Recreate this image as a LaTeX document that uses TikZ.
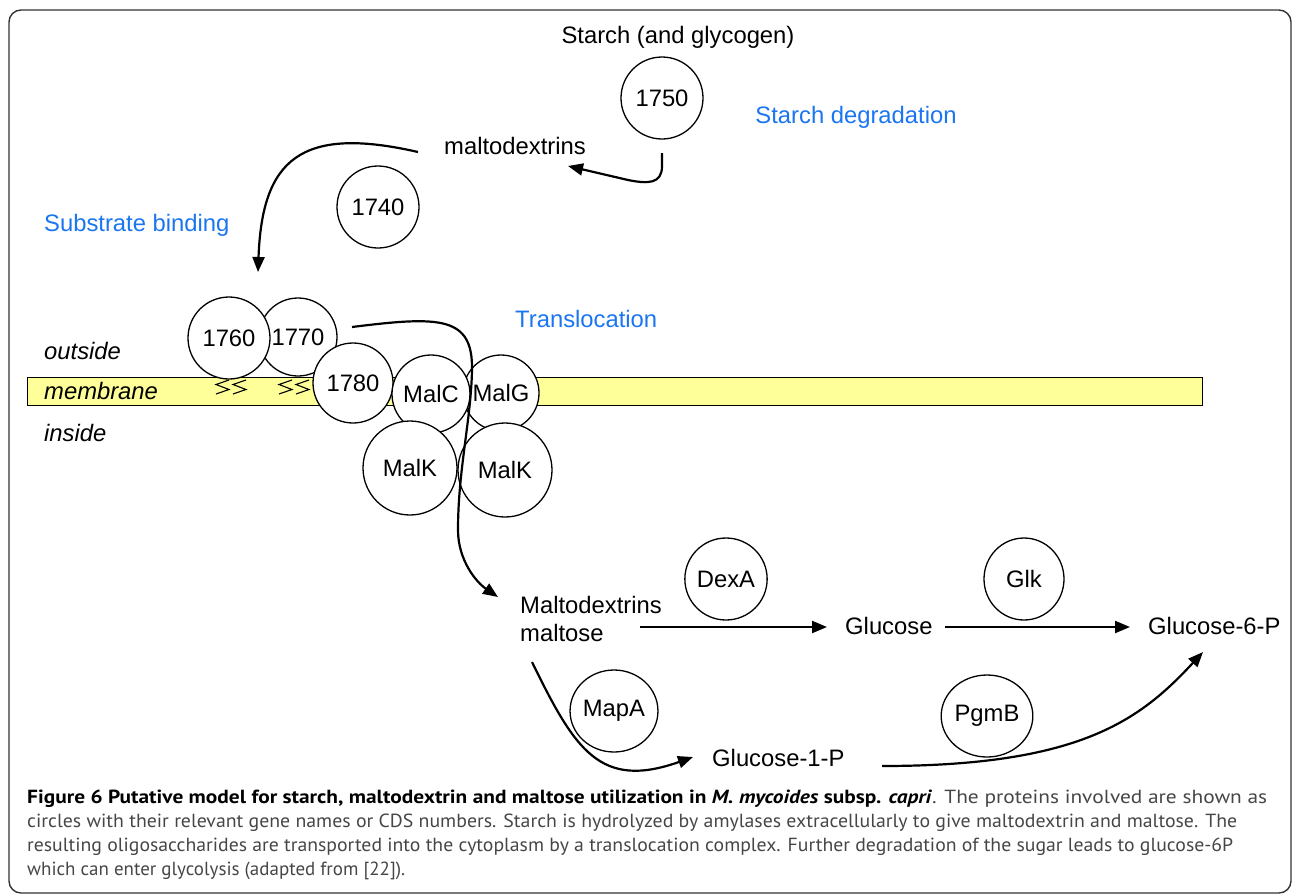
\documentclass[tikz,border=0pt]{standalone}
\usepackage{fontspec}
\usepackage{graphicx}
\setmainfont{Liberation Sans}
\newfontfamily\capfont{PT Sans}
\usetikzlibrary{arrows.meta,shapes.geometric}
\definecolor{memyellow}{RGB}{255,255,153}
\definecolor{labelblue}{RGB}{26,117,240}
\definecolor{capgray}{RGB}{70,70,70}
\begin{document}
\begin{tikzpicture}[x=1pt,y=-1pt,
  prot/.style={circle,draw,line width=1.3pt,fill=white,minimum size=82pt,inner sep=0pt,font=\fontsize{23.8}{26}\selectfont},
  protK/.style={prot,minimum size=94pt},
  enz/.style={ellipse,draw,line width=1.3pt,fill=white,minimum width=80pt,minimum height=82pt,inner sep=0pt,font=\fontsize{23.8}{26}\selectfont},
  lbl/.style={inner sep=0pt,font=\fontsize{23.8}{28}\selectfont},
  blbl/.style={lbl,text=labelblue},
  ilbl/.style={inner sep=0pt,font=\fontsize{23.8}{28}\selectfont\itshape},
  arr/.style={line width=2.2pt,-{Triangle[length=15pt,width=12pt]}},
  zz/.style={line width=1.1pt,line join=miter},
  captext/.style={inner sep=0pt,anchor=base west,font=\capfont\fontsize{19}{24}\selectfont,text=capgray}
]
\useasboundingbox (0,0) rectangle (1293,895);
\draw[line width=1.4pt,rounded corners=12pt,draw=black!80] (9,10) rectangle (1291,893);

% membrane
\node[draw,line width=1.2pt,fill=memyellow,minimum width=1175pt,minimum height=28pt,inner sep=0pt,anchor=north west] (membrane) at (27,377) {};
\node[ilbl,anchor=west] (outside) at (44,351) {outside};
\node[ilbl,anchor=west] (membr) at (44,391) {membrane};
\node[ilbl,anchor=west] (inside) at (44,433) {inside};

% top labels
\node[lbl] (starch) at (678,37) {Starch (and glycogen)};
\node[lbl] (maltodex) at (515,146) {maltodextrins};
\node[blbl] (degr) at (856,117) {Starch degradation};
\node[blbl,anchor=west] (subst) at (44,225) {Substrate binding};
\node[blbl,anchor=west] (transl) at (515,319) {Translocation};

% proteins
\node[prot] (p1750) at (662,98) {1750};
\node[prot] (p1740) at (378,207) {1740};
\node[prot,minimum size=78pt] (p1770) at (298,337) {1770};
\node[prot] (p1760) at (229,338) {1760};
\node[prot,minimum size=80pt] (p1780) at (353,383) {1780};
\node[prot,minimum size=76pt] (malG) at (501,393) {MalG};
\node[prot,minimum size=78pt] (malC) at (431,394) {MalC};
\node[protK] (malK2) at (505,470) {MalK};
\node[protK] (malK1) at (410,468) {MalK};

% lipid anchors
\foreach \x in {215,232,278,295}{
  \draw[zz] (\x+14,380) -- (\x+1,384.5) -- (\x+14,389.5) -- (\x+1,394);
}

% bottom pathway
\node[lbl,align=left,anchor=west] (maltose) at (520,619) {Maltodextrins\\maltose};
\node[lbl,anchor=west] (glucose) at (845,626) {Glucose};
\node[lbl,anchor=west] (g6p) at (1148,626) {Glucose-6-P};
\node[lbl,anchor=west] (g1p) at (712,758) {Glucose-1-P};
\node[enz] (dexA) at (726,579) {DexA};
\node[enz] (glk) at (1024,579) {Glk};
\node[enz] (mapA) at (614,711) {MapA};
\node[enz] (pgmB) at (987,716) {PgmB};

% connector end points
\coordinate (a1s) at (662,153); \coordinate (a1e) at (568,166);
\coordinate (a2s) at (418,152); \coordinate (a2e) at (258,272);
\coordinate (a3s) at (352,327); \coordinate (a3e) at (498,597);
\coordinate (a4s) at (640,627); \coordinate (a4e) at (827,627);
\coordinate (a5s) at (945,627); \coordinate (a5e) at (1130,627);
\coordinate (a6s) at (532,662); \coordinate (a6e) at (693,757);
\coordinate (a7s) at (882,766); \coordinate (a7e) at (1203,652);

\draw[arr] (a1s) -- (662,166) .. controls (662,184) and (648,184) .. (628,180) -- (a1e);
\draw[arr] (a2s) .. controls (300,125) and (262,160) .. (a2e);
\draw[arr] (a3s) .. controls (440,316) and (473,316) .. (472,370) .. controls (471,420) and (458,470) .. (458,530) .. controls (458,560) and (476,582) .. (a3e);
\draw[arr] (a4s) -- (a4e);
\draw[arr] (a5s) -- (a5e);
\draw[arr] (a6s) .. controls (575,750) and (600,790) .. (a6e);
\draw[arr] (a7s) .. controls (1080,766) and (1140,720) .. (a7e);

% caption
\node[captext] (cap1) at (27,803) {\resizebox{1240pt}{\height}{\textcolor{black}{\textbf{Figure 6 Putative model for starch, maltodextrin and maltose utilization in \textit{M. mycoides} subsp. \textit{capri}}}. The proteins involved are shown as}};
\node[captext] (cap2) at (27,827) {\resizebox{1210pt}{\height}{circles with their relevant gene names or CDS numbers. Starch is hydrolyzed by amylases extracellularly to give maltodextrin and maltose. The}};
\node[captext] (cap3) at (27,851) {\resizebox{1206pt}{\height}{resulting oligosaccharides are transported into the cytoplasm by a translocation complex. Further degradation of the sugar leads to glucose-6P}};
\node[captext] (cap4) at (27,875) {\resizebox{378pt}{\height}{which can enter glycolysis (adapted from [22]).}};
\end{tikzpicture}
\end{document}
